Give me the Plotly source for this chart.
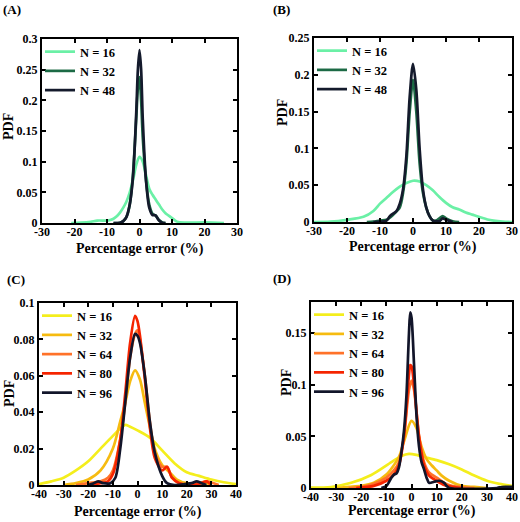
import plotly.graph_objects as go

FONT = "Liberation Serif"

# ---------------- Panel A ----------------
a16_x = [-21, -18, -15, -13, -10, -9, -8, -7, -6, -5, -4, -3, -2, -1, 0, 1, 2, 3, 4, 5, 6, 7, 8, 9, 10, 11, 12, 15, 20, 26]
a16_y = [0, 0.0005, 0.002, 0.004, 0.004, 0.005, 0.007, 0.011, 0.017, 0.025, 0.035, 0.05, 0.07, 0.095, 0.108, 0.1, 0.078, 0.056, 0.046, 0.038, 0.03, 0.022, 0.016, 0.012, 0.008, 0.004, 0.0015, 0.0005, 0.001, 0]
a32_x = [-8, -6, -5, -4, -3, -2, -1, -0.5, 0, 0.5, 1, 2, 3, 4, 5, 6, 7, 8]
a32_y = [0, 0.0005, 0.003, 0.01, 0.03, 0.08, 0.17, 0.22, 0.238, 0.2, 0.14, 0.07, 0.03, 0.015, 0.012, 0.005, 0.001, 0]
a48_x = [-8, -6, -5, -4, -3, -2, -1, -0.5, 0, 0.5, 1, 2, 3, 4, 4.5, 5, 6, 7, 8]
a48_y = [0, 0.0005, 0.003, 0.01, 0.03, 0.075, 0.18, 0.25, 0.282, 0.25, 0.17, 0.07, 0.025, 0.013, 0.013, 0.012, 0.004, 0.0005, 0]

# ---------------- Panel B ----------------
b16_x = [-30, -25, -20, -15, -12, -10, -8, -6, -4, -2, 0, 2, 4, 6, 8, 10, 12, 14, 16, 18, 20, 23, 25, 28, 30]
b16_y = [0, 0.0005, 0.003, 0.007, 0.015, 0.025, 0.033, 0.041, 0.048, 0.053, 0.056, 0.055, 0.05, 0.043, 0.034, 0.026, 0.02, 0.017, 0.013, 0.01, 0.007, 0.003, 0.0015, 0.0003, 0]
b32_x = [-14, -12, -10, -8, -6, -4, -3, -2, -1, 0, 1, 2, 3, 4, 5, 6, 7, 8, 9, 10, 12, 14]
b32_y = [0, 0.0005, 0.002, 0.003, 0.01, 0.02, 0.04, 0.08, 0.15, 0.193, 0.15, 0.08, 0.04, 0.02, 0.008, 0.002, 0.002, 0.005, 0.008, 0.005, 0.001, 0]
b48_x = [-12, -10, -8, -7, -5, -4, -3, -2, -1, 0, 1, 2, 3, 4, 5, 6, 8, 9, 10, 12]
b48_y = [0, 0.0005, 0.002, 0.008, 0.015, 0.025, 0.045, 0.09, 0.17, 0.215, 0.18, 0.1, 0.045, 0.02, 0.008, 0.002, 0.001, 0.005, 0.003, 0]

# ---------------- Panel C ----------------
c16_x = [-40, -35, -30, -25, -20, -15, -10, -7, -5, -3, 0, 5, 10, 15, 20, 25, 30, 35, 40]
c16_y = [0.0005, 0.002, 0.004, 0.008, 0.013, 0.02, 0.027, 0.031, 0.033, 0.032, 0.03, 0.026, 0.019, 0.012, 0.007, 0.005, 0.003, 0.0015, 0.0005]
c32_x = [-30, -25, -20, -15, -10, -7, -5, -3, -1, 1, 3, 5, 7, 10, 13, 16, 20, 25, 28, 30]
c32_y = [0, 0.001, 0.003, 0.008, 0.02, 0.035, 0.045, 0.057, 0.063, 0.058, 0.045, 0.032, 0.02, 0.011, 0.007, 0.003, 0.001, 0.001, 0.001, 0]
c64_x = [-25, -20, -15, -12, -10, -7, -5, -3, -1, 0, 1, 3, 5, 7, 10, 12, 14, 17, 22, 25, 28, 33]
c64_y = [0, 0.001, 0.002, 0.004, 0.008, 0.025, 0.045, 0.07, 0.083, 0.085, 0.08, 0.06, 0.035, 0.018, 0.01, 0.01, 0.004, 0.001, 0.0005, 0.001, 0.002, 0]
c80_x = [-20, -15, -12, -10, -7, -5, -3, -1, 0, 1, 3, 5, 7, 10, 12, 14, 17, 22, 26, 28, 30]
c80_y = [0, 0.001, 0.002, 0.006, 0.025, 0.05, 0.078, 0.093, 0.09, 0.082, 0.058, 0.032, 0.015, 0.008, 0.01, 0.004, 0.001, 0, 0.001, 0.002, 0]
c96_x = [-20, -18, -16, -14, -11, -9, -7, -5, -3, -1, 0, 1, 3, 5, 7, 10, 12, 15, 22, 24, 26, 28]
c96_y = [0, 0.0008, 0.002, 0.001, 0.001, 0.004, 0.02, 0.045, 0.07, 0.083, 0.082, 0.078, 0.06, 0.035, 0.018, 0.005, 0.001, 0, 0.001, 0.002, 0.001, 0]

# ---------------- Panel D ----------------
d16_x = [-40, -32, -24, -16, -8, -4, -1, 2, 5, 10, 15, 20, 25, 30, 35, 40]
d16_y = [0.0003, 0.001, 0.005, 0.0126, 0.025, 0.031, 0.033, 0.032, 0.03, 0.027, 0.023, 0.018, 0.012, 0.007, 0.004, 0.002]
d32_x = [-30, -25, -20, -15, -10, -5, -3, 0, 2, 4, 6, 8, 10, 12, 15, 20, 25, 30]
d32_y = [0, 0.001, 0.002, 0.005, 0.013, 0.03, 0.045, 0.065, 0.058, 0.04, 0.028, 0.022, 0.017, 0.012, 0.007, 0.002, 0.001, 0]
d64_x = [-25, -20, -15, -10, -7, -5, -3, -1, 0, 1, 3, 5, 7, 10, 13, 16, 20, 25]
d64_y = [0, 0.001, 0.004, 0.01, 0.017, 0.025, 0.05, 0.095, 0.104, 0.095, 0.05, 0.025, 0.015, 0.01, 0.005, 0.002, 0.001, 0]
d80_x = [-22, -15, -10, -7, -5, -3, -1, -0.5, 0, 1, 3, 5, 7, 10, 13, 17, 20]
d80_y = [0, 0.002, 0.007, 0.013, 0.022, 0.05, 0.11, 0.119, 0.118, 0.1, 0.05, 0.022, 0.012, 0.007, 0.003, 0.001, 0]
d96_x = [-12, -10, -8, -7, -6, -5, -4, -3, -2, -1, -0.5, 0, 1, 2, 3, 4, 5, 6, 7, 9, 11, 13, 14, 15, 34, 36, 40]
d96_y = [0, 0.002, 0.01, 0.013, 0.014, 0.02, 0.035, 0.055, 0.09, 0.15, 0.17, 0.165, 0.12, 0.07, 0.04, 0.025, 0.018, 0.01, 0.005, 0.006, 0.007, 0.005, 0.002, 0, 0, 0.001, 0.001]

# ---------------- Ticks / labels ----------------
x30_vals = [-30, -20, -10, 0, 10, 20, 30]
x30_text = ["-30", "-20", "-10", "0", "10", "20", "30"]
x40_vals = [-40, -30, -20, -10, 0, 10, 20, 30, 40]
x40_text = ["-40", "-30", "-20", "-10", "0", "10", "20", "30", "40"]
ya_vals = [0, 0.05, 0.1, 0.15, 0.2, 0.25, 0.3]
ya_text = ["0", "0.05", "0.1", "0.15", "0.2", "0.25", "0.3"]
yb_vals = [0, 0.05, 0.1, 0.15, 0.2, 0.25]
yb_text = ["0", "0.05", "0.1", "0.15", "0.2", "0.25"]
yc_vals = [0, 0.02, 0.04, 0.06, 0.08, 0.1]
yc_text = ["0", "0.02", "0.04", "0.06", "0.08", "0.1"]
yd_vals = [0, 0.05, 0.1, 0.15]
yd_text = ["0", "0.05", "0.1", "0.15"]

names_ab = ["N = 16", "N = 32", "N = 48"]
names_cd = ["N = 16", "N = 32", "N = 64", "N = 80", "N = 96"]
colors_ab = ["#6bf0a6", "#1c6a45", "#141a2c"]
colors_cd = ["#f4ee1c", "#f6bb10", "#ff7229", "#f52400", "#12152a"]
panel_labels = ["(A)", "(B)", "(C)", "(D)"]
x_title = "Percentage error (%)"
y_title = "PDF"

fig = go.Figure()

panels = [
    ("x", "y", "legend", [(a16_x, a16_y), (a32_x, a32_y), (a48_x, a48_y)], names_ab, colors_ab),
    ("x2", "y2", "legend2", [(b16_x, b16_y), (b32_x, b32_y), (b48_x, b48_y)], names_ab, colors_ab),
    ("x3", "y3", "legend3", [(c16_x, c16_y), (c32_x, c32_y), (c64_x, c64_y), (c80_x, c80_y), (c96_x, c96_y)], names_cd, colors_cd),
    ("x4", "y4", "legend4", [(d16_x, d16_y), (d32_x, d32_y), (d64_x, d64_y), (d80_x, d80_y), (d96_x, d96_y)], names_cd, colors_cd),
]

for xa, ya, lg, series, names, cols in panels:
    for (xs, ys), nm, c in zip(series, names, cols):
        fig.add_trace(go.Scatter(x=xs, y=ys, mode="lines", name=nm, xaxis=xa, yaxis=ya, legend=lg,
                                 line=dict(color=c, width=2.7, shape="spline", smoothing=0.8)))

W, H = 520, 522
# plot area pixel boxes (left, top, right, bottom)
boxes = [(42, 39, 237, 223), (314, 38, 512, 222), (39, 303, 236, 485), (311, 302, 512, 488)]
# label placements (pixels): panel label (left, center y), y-title center, x-title center y
plabel_pos = [(2, 9), (272, 9), (6, 279), (272, 278)]
ytitle_pos = [(8, 127), (282, 113), (9, 394), (286, 383)]
xtitle_y = [249, 247, 512, 511]
xr = [[-30, 30], [-30, 30], [-40, 40], [-40, 40]]
yr = [[0, 0.3], [0, 0.25], [0, 0.1], [0, 0.18]]
xt = [(x30_vals, x30_text), (x30_vals, x30_text), (x40_vals, x40_text), (x40_vals, x40_text)]
yt = [(ya_vals, ya_text), (yb_vals, yb_text), (yc_vals, yc_text), (yd_vals, yd_text)]

tickfont = dict(family=FONT, size=12, color="black", weight="bold")
layout = dict(width=W, height=H, margin=dict(l=0, r=0, t=0, b=0, autoexpand=False),
              paper_bgcolor="white", plot_bgcolor="white", showlegend=True)
annotations = []
for i, (l, t, r, b) in enumerate(boxes):
    sfx = "" if i == 0 else str(i + 1)
    dom_x = [l / W, r / W]
    dom_y = [1 - b / H, 1 - t / H]
    common = dict(showline=True, linecolor="black", linewidth=2, mirror="ticks", ticks="inside",
                  ticklen=4, tickwidth=1.5, tickcolor="black", showgrid=False, zeroline=False,
                  tickfont=tickfont, automargin=False)
    layout["xaxis" + sfx] = dict(domain=dom_x, range=xr[i], tickvals=xt[i][0], ticktext=xt[i][1],
                                 anchor="y" + sfx, ticklabelstandoff=-3, **common)
    layout["yaxis" + sfx] = dict(domain=dom_y, range=yr[i], tickvals=yt[i][0], ticktext=yt[i][1],
                                 anchor="x" + sfx, **common)
    layout["legend" + ("" if i == 0 else str(i + 1))] = dict(
        x=dom_x[0] - 2 / W, y=dom_y[1] + 2 / H, xanchor="left", yanchor="top",
        bgcolor="rgba(0,0,0,0)", borderwidth=0, tracegroupgap=0, itemwidth=30,
        font=dict(family=FONT, size=12.5, color="black", weight="bold"))
    pl = plabel_pos[i]
    annotations.append(dict(text=panel_labels[i], xref="paper", yref="paper",
                            x=pl[0] / W, y=1 - pl[1] / H, xanchor="left", yanchor="middle",
                            showarrow=False, borderpad=0,
                            font=dict(family=FONT, size=13, color="black", weight="bold")))
    annotations.append(dict(text=x_title, xref="paper", yref="paper", x=(l + r) / 2 / W,
                            y=1 - xtitle_y[i] / H, xanchor="center", yanchor="middle",
                            showarrow=False, borderpad=0,
                            font=dict(family=FONT, size=14, color="black", weight="bold")))
    yp = ytitle_pos[i]
    annotations.append(dict(text=y_title, xref="paper", yref="paper", x=yp[0] / W,
                            y=1 - yp[1] / H, xanchor="center", yanchor="middle", showarrow=False,
                            textangle=-90, borderpad=0,
                            font=dict(family=FONT, size=14, color="black", weight="bold")))
layout["annotations"] = annotations
fig.update_layout(**layout)
fig.write_html("out.html", config={"displayModeBar": False},
               post_script="document.body.style.margin='0';document.body.style.padding='0';")
